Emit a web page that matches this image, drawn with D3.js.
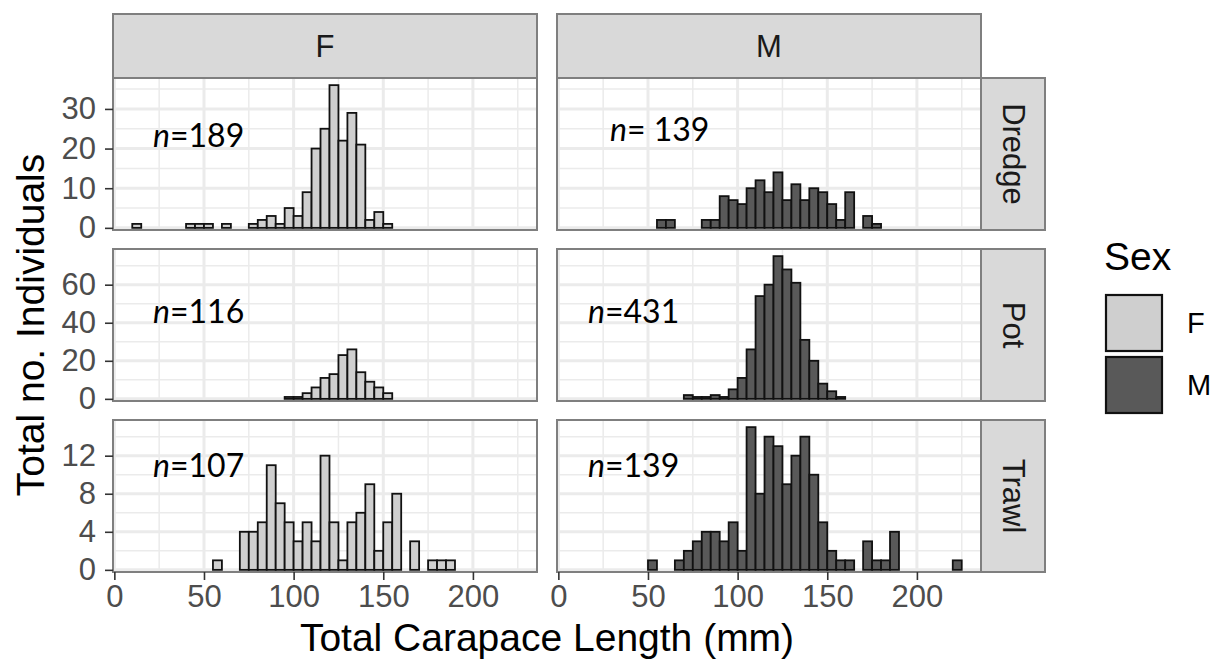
<!DOCTYPE html>
<html>
<head>
<meta charset="utf-8">
<script src="https://cdn.jsdelivr.net/npm/d3@7"></script>
<style>
  body { margin: 0; background: #fff; }
  text { font-family: "Liberation Sans", Arial, sans-serif; }
</style>
</head>
<body>
<svg id="chart" width="1219" height="669"></svg>
<script>
// histogram bins: 5 mm wide, first bin starts at 10 mm (43 bins, 10..225)
const binStart = 10;
const binWidth = 5;

const sexes = ['F', 'M'];
const gears = ['Dredge', 'Pot', 'Trawl'];

// counts per bin
const dredgeF = [1,0,0,0,0,0,1,1,1,0,1,0,0,1,2,3,1,5,3,9,20,25,36,22,29,21,2,4,1,0,0,0,0,0,0,0,0,0,0,0,0,0,0];
const dredgeM = [0,0,0,0,0,0,0,0,0,2,2,0,0,0,2,2,8,7,6,10,12,9,14,7,11,7,10,9,6,2,9,0,3,1,0,0,0,0,0,0,0,0,0];
const potF    = [0,0,0,0,0,0,0,0,0,0,0,0,0,0,0,0,0,1,1,3,6,11,13,23,26,14,9,6,3,0,0,0,0,0,0,0,0,0,0,0,0,0,0];
const potM    = [0,0,0,0,0,0,0,0,0,0,0,0,2,1,1,2,1,5,11,26,54,60,75,68,61,31,20,8,4,1,0,0,0,0,0,0,0,0,0,0,0,0,0];
const trawlF  = [0,0,0,0,0,0,0,0,0,1,0,0,4,4,5,11,7,5,3,5,3,12,5,1,5,6,9,2,5,8,0,3,0,1,1,1,0,0,0,0,0,0,0];
const trawlM  = [0,0,0,0,0,0,0,0,1,0,0,1,2,3,4,4,3,5,2,15,8,14,13,9,12,14,10,5,2,1,1,0,3,1,1,4,0,0,0,0,0,0,1];

const counts = {
  Dredge: { F: dredgeF, M: dredgeM },
  Pot:    { F: potF,    M: potM },
  Trawl:  { F: trawlF,  M: trawlM }
};

const xTicks = [0, 50, 100, 150, 200];
const xMinor = [25, 75, 125, 175, 225];
const yTicks = { Dredge: [0, 10, 20, 30], Pot: [0, 20, 40, 60], Trawl: [0, 4, 8, 12] };
const yMinor = { Dredge: [5, 15, 25, 35], Pot: [10, 30, 50, 70], Trawl: [2, 6, 10, 14] };

const nLabels = {
  Dredge: { F: '189', M: ' 139' },
  Pot:    { F: '116', M: '431' },
  Trawl:  { F: '107', M: '139' }
};

const fillFor = { F: '#cfcfcf', M: '#595959' };

// ---- layout ----
const W = 1219, H = 669;
const panelLeft = { F: 113, M: 557 };
const panelW = 424;
const panelTop = { Dredge: 78, Pot: 249, Trawl: 420 };
const panelH = 152;
const stripSize = 64;
const smallFont = '31px', titleFont = '39px';
// n= label anchor (left x, baseline) relative to panel origin
const labelPos = {
  Dredge: { F: [40, 69], M: [53, 63] },
  Pot:    { F: [40, 74], M: [31, 74] },
  Trawl:  { F: [40, 57], M: [31, 57] }
};

const svg = d3.select('#chart');
svg.append('rect').attr('width', W).attr('height', H).attr('fill', '#fff');

const x = d3.scaleLinear().domain([-0.75, 235.75]).range([0, panelW]);

const bins = dredgeF.map((_, i) => binStart + i * binWidth);

function styleAxis(ax){
  ax.select('.domain').remove();
  ax.selectAll('line').attr('stroke', '#333').attr('stroke-width', 1.6);
  ax.selectAll('text').style('font-family', '"Liberation Sans", Arial, sans-serif')
    .style('font-size', smallFont).attr('fill', '#4d4d4d');
}

gears.forEach(gear => {
  const maxCount = d3.max([...counts[gear].F, ...counts[gear].M]);
  const y = d3.scaleLinear().domain([-0.015 * maxCount, maxCount * 1.05]).range([panelH, 0]);

  sexes.forEach(sex => {
    const g = svg.append('g').attr('transform', `translate(${panelLeft[sex]},${panelTop[gear]})`);
    g.append('rect').attr('width', panelW).attr('height', panelH).attr('fill', '#fff');

    // grid, minor then major
    const grid = g.append('g').attr('stroke', '#ebebeb').attr('fill', 'none');
    grid.selectAll('.xmin').data(xMinor).join('line')
      .attr('x1', d => x(d)).attr('x2', d => x(d)).attr('y1', 0).attr('y2', panelH).attr('stroke-width', 1.5);
    grid.selectAll('.ymin').data(yMinor[gear]).join('line')
      .attr('y1', d => y(d)).attr('y2', d => y(d)).attr('x1', 0).attr('x2', panelW).attr('stroke-width', 1.5);
    grid.selectAll('.xmaj').data(xTicks).join('line')
      .attr('x1', d => x(d)).attr('x2', d => x(d)).attr('y1', 0).attr('y2', panelH).attr('stroke-width', 3);
    grid.selectAll('.ymaj').data(yTicks[gear]).join('line')
      .attr('y1', d => y(d)).attr('y2', d => y(d)).attr('x1', 0).attr('x2', panelW).attr('stroke-width', 3);

    // bars (zero bins still drawn, as ggplot does: flat outline on the baseline)
    g.append('g').selectAll('rect').data(counts[gear][sex]).join('rect')
      .attr('x', (d, i) => x(bins[i]))
      .attr('width', x(binWidth) - x(0))
      .attr('y', d => y(d))
      .attr('height', d => y(0) - y(d))
      .attr('fill', fillFor[sex])
      .attr('stroke', d => d === 0 ? '#555' : '#111')
      .attr('stroke-width', 1.8);

    g.append('rect').attr('width', panelW).attr('height', panelH)
      .attr('fill', 'none').attr('stroke', '#7f7f7f').attr('stroke-width', 2);

    // n= annotation
    const [lx, ly] = labelPos[gear][sex];
    const t = g.append('text').attr('x', lx).attr('y', ly)
      .style('font-family', 'Lato, "Open Sans", sans-serif').style('font-size', '32px').attr('fill', '#000');
    t.append('tspan').style('font-style', 'italic').text('n');
    t.append('tspan').text('=' + nLabels[gear][sex]);

    // y axis on left column, x axis on bottom row
    if (sex === 'F') {
      styleAxis(g.append('g').call(d3.axisLeft(y).tickValues(yTicks[gear]).tickSize(8).tickPadding(9)));
    }
    if (gear === 'Trawl') {
      styleAxis(g.append('g').attr('transform', `translate(0,${panelH})`)
        .call(d3.axisBottom(x).tickValues(xTicks).tickSize(8).tickPadding(5)));
    }
  });

  // right strip
  const sx = panelLeft.M + panelW;
  const sg = svg.append('g').attr('transform', `translate(${sx},${panelTop[gear]})`);
  sg.append('rect').attr('width', stripSize).attr('height', panelH)
    .attr('fill', '#d9d9d9').attr('stroke', '#7f7f7f').attr('stroke-width', 2);
  sg.append('text').attr('transform', `translate(${stripSize / 2},${panelH / 2}) rotate(90)`)
    .attr('text-anchor', 'middle').attr('dominant-baseline', 'central')
    .style('font-size', smallFont).attr('fill', '#1a1a1a').text(gear);
});

// top strips
sexes.forEach(sex => {
  const sg = svg.append('g').attr('transform', `translate(${panelLeft[sex]},${panelTop.Dredge - stripSize})`);
  sg.append('rect').attr('width', panelW).attr('height', stripSize)
    .attr('fill', '#d9d9d9').attr('stroke', '#7f7f7f').attr('stroke-width', 2);
  sg.append('text').attr('x', panelW / 2).attr('y', stripSize / 2)
    .attr('text-anchor', 'middle').attr('dominant-baseline', 'central')
    .style('font-size', smallFont).attr('fill', '#1a1a1a').text(sex);
});

// axis titles
const plotMidX = (panelLeft.F + panelLeft.M + panelW) / 2;
const plotMidY = (panelTop.Dredge + panelTop.Trawl + panelH) / 2;
svg.append('text').attr('x', plotMidX).attr('y', 651).attr('text-anchor', 'middle')
  .style('font-size', titleFont).attr('fill', '#000').text('Total Carapace Length (mm)');
svg.append('text').attr('transform', `translate(44,${plotMidY}) rotate(-90)`).attr('text-anchor', 'middle')
  .style('font-size', titleFont).attr('fill', '#000').text('Total no. Individuals');

// legend
const lg = svg.append('g').attr('transform', 'translate(1104,0)');
lg.append('text').attr('x', 0).attr('y', 270).style('font-size', titleFont).attr('fill', '#000').text('Sex');
lg.selectAll('.key').data(sexes).join('rect')
  .attr('x', 2).attr('y', (d, i) => 295 + i * 62)
  .attr('width', 56).attr('height', 56)
  .attr('fill', d => fillFor[d]).attr('stroke', '#111').attr('stroke-width', 2.2);
lg.selectAll('.lab').data(sexes).join('text')
  .attr('x', 83).attr('y', (d, i) => 323 + i * 62).attr('dominant-baseline', 'central')
  .style('font-size', '29px').attr('fill', '#000').text(d => d);
</script>
</body>
</html>
